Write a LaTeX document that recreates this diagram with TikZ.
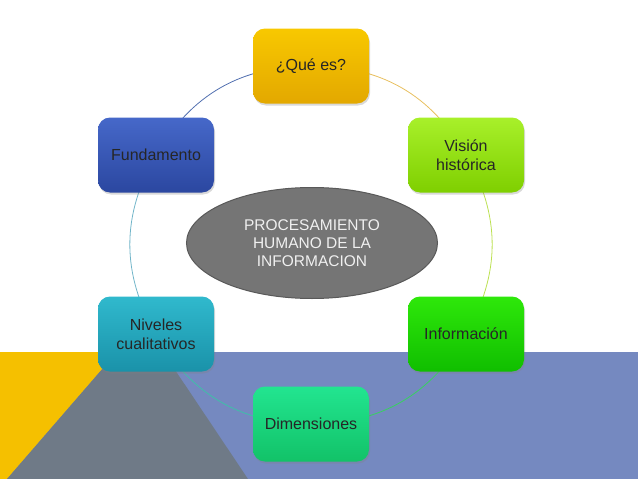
\documentclass[tikz,border=0pt]{standalone}
\usepackage{fontspec}
\setmainfont{Liberation Sans}
\usetikzlibrary{shapes.geometric,shadows,backgrounds}

\definecolor{bandBlue}{HTML}{7589C0}
\definecolor{bandGray}{HTML}{6F7A87}
\definecolor{bandYellow}{HTML}{F5C000}
% box colours (top / bottom)
\definecolor{queTop}{HTML}{F8C800}\definecolor{queBot}{HTML}{E3A800}
\definecolor{visTop}{HTML}{A8F02A}\definecolor{visBot}{HTML}{7FCF00}
\definecolor{infTop}{HTML}{2EE80A}\definecolor{infBot}{HTML}{10BE00}
\definecolor{dimTop}{HTML}{22E590}\definecolor{dimBot}{HTML}{12C268}
\definecolor{nivTop}{HTML}{30B9CD}\definecolor{nivBot}{HTML}{1A92A9}
\definecolor{funTop}{HTML}{4668C9}\definecolor{funBot}{HTML}{2B47A0}
% ring colours
\definecolor{ringA}{HTML}{E8C060}
\definecolor{ringB}{HTML}{BBE050}
\definecolor{ringC}{HTML}{38D060}
\definecolor{ringD}{HTML}{40BFA8}
\definecolor{ringE}{HTML}{70B4C8}
\definecolor{ringF}{HTML}{5270B0}

\begin{document}
\begin{tikzpicture}[x=1pt, y=-1pt,
  box/.style={rounded corners=12pt, minimum width=116pt, minimum height=75pt,
    align=center, font=\fontsize{16}{19}\selectfont, text=black!85,
    drop shadow={opacity=0.3, shadow xshift=1pt, shadow yshift=-2pt}},
  ring/.style={line width=0.8pt}]
  \useasboundingbox (0,0) rectangle (638,479);

  % Outer boxes (hexagon round the centre)
  \node (nQue) [box, top color=queTop, bottom color=queBot] at (311,66) {¿Qué es?};
  \node (nVision) [box, top color=visTop, bottom color=visBot] at (466,155) {Visión\\histórica};
  \node (nInfo) [box, top color=infTop, bottom color=infBot] at (466,334) {Información};
  \node (nDim) [box, top color=dimTop, bottom color=dimBot] at (311,424) {Dimensiones};
  \node (nNiv) [box, top color=nivTop, bottom color=nivBot] at (156,334) {Niveles\\cualitativos};
  \node (nFund) [box, top color=funTop, bottom color=funBot] at (156,155) {Fundamento};

  % Centre ellipse
  \node (nCentre) [ellipse, fill=black!54, draw=black!65, line width=1pt,
    minimum width=251pt, minimum height=111pt, align=center,
    font=\fontsize{15.5}{18}\selectfont, text=black!6] at (312,243)
    {PROCESAMIENTO\\HUMANO DE LA\\INFORMACION};

  \begin{scope}[on background layer]
    % Bottom band
    \fill[bandBlue] (0,352) rectangle (638,479);
    \fill[bandYellow] (0,352) -- (117,352) -- (7,479) -- (0,479) -- cycle;
    \fill[bandGray] (117,352) -- (163,352) -- (248,479) -- (7,479) -- cycle;

    % Ring segments
    \draw[ring, ringA] (nQue.center) to[bend left=30] (nVision.center);
    \draw[ring, ringB] (nVision.center) to[bend left=30] (nInfo.center);
    \draw[ring, ringC] (nInfo.center) to[bend left=30] (nDim.center);
    \draw[ring, ringD] (nDim.center) to[bend left=30] (nNiv.center);
    \draw[ring, ringE] (nNiv.center) to[bend left=30] (nFund.center);
    \draw[ring, ringF] (nFund.center) to[bend left=30] (nQue.center);
  \end{scope}
\end{tikzpicture}
\end{document}
